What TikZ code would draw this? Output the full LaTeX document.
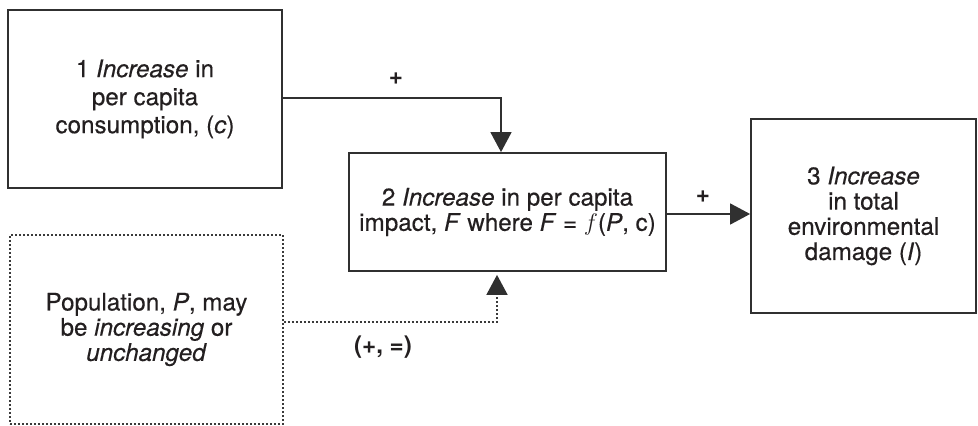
\documentclass[tikz,border=0pt]{standalone}
\usepackage{fontspec}
\setsansfont{TeX Gyre Heros}[UprightFeatures={FakeBold=0.35},ItalicFeatures={FakeBold=0.35}]
\usepackage{xcolor}
\usepackage{tikz}
\usetikzlibrary{arrows.meta,positioning}

\definecolor{boxline}{HTML}{303030}
\definecolor{inkcol}{HTML}{231F20}
\definecolor{dotline}{HTML}{3A3A3A}

\begin{document}
\begin{tikzpicture}[
  x=0.5pt,
  y=-0.5pt,
  font=\sffamily\fontsize{12.1}{12.6}\selectfont,
  text=inkcol,
  box/.style={draw=boxline, line width=0.9pt, align=center, inner sep=0pt},
  dotbox/.style={draw=dotline, line width=0.9pt, dash pattern=on 0.9pt off 1.1pt, align=center, inner sep=0pt},
  link/.style={draw=boxline, line width=0.75pt, -{Triangle[length=10pt,width=10.5pt]}},
  dotlink/.style={draw=dotline, line width=0.9pt, dash pattern=on 0.9pt off 1.1pt,
    -{Triangle[length=10pt,width=10.5pt,sep=1.5pt,color=boxline]}},
  sign/.style={font=\sffamily\bfseries\fontsize{12.1}{12.6}\selectfont}
]
  \useasboundingbox (0,0) rectangle (978,426);

  % boxes
  \node[box, minimum width=137pt, minimum height=89pt,
    font=\sffamily\fontsize{12.1}{14}\selectfont] (cons) at (145,99)
    {1 \textit{Increase} in\\per capita\\consumption, (\textit{c})};
  \node[box, minimum width=158.5pt, minimum height=59pt] (impact) at (507.5,212)
    {2 \textit{Increase} in per capita\\impact, \textit{F} where \textit{F} = $f$(\textit{P}, c)};
  \node[box, minimum width=112.5pt, minimum height=97pt] (damage) at (863.5,216)
    {3 \textit{Increase}\\in total\\environmental\\damage (\textit{I})};
  \node[dotbox, minimum width=136.5pt, minimum height=94.5pt] (popn) at (146.5,329.5)
    {Population, \textit{P}, may\\be \textit{increasing} or\\\textit{unchanged}};

  % connectors
  \draw[link] ([yshift=0.5pt]cons.east) -| ([xshift=-3.25pt]impact.north);
  \draw[link] ([yshift=-1pt]impact.east) -- ([yshift=-1pt]damage.west |- impact.east);
  \draw[dotlink] ([yshift=3.75pt]popn.east) -| ([xshift=-5.25pt]impact.south);

  % signs
  \node[sign] (plusa) at (396,79) {+};
  \node[sign] (plusb) at (703,197) {+};
  \node[sign] (mixed) at (383,347) {(+, =)};
\end{tikzpicture}
\end{document}
